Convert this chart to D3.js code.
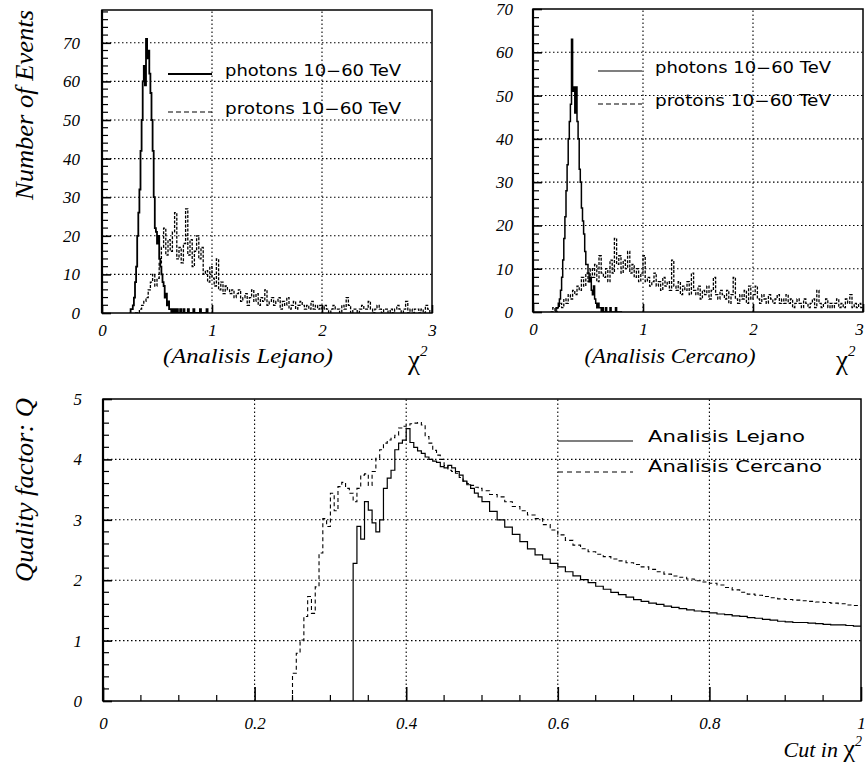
<!DOCTYPE html>
<html><head><meta charset="utf-8">
<script src="https://cdn.jsdelivr.net/npm/d3@7"></script>
<style>body{margin:0;background:#fff} svg{display:block}
.ser{font-family:'Liberation Serif','Times New Roman','DejaVu Serif',serif;font-style:italic}
</style>
</head><body><svg id="c" width="865" height="764"></svg>
<script>
// ---------------- DATA ----------------
// Top histograms: bin start, bin width, counts
const photonBinW = 0.01;
const protonBinW = 0.02;
const photonsLejanoStart = 0.25;
const photonsLejano = [0,1,1,2,4,8,12,20,26,32,42,50,60,64,59,71,66,68,62,57,50,42,30,22,21,18,20,14,12,10,8,7,4,5,2,3,1,1,0,1,0,1,0,1,0,0,1,0,0,1,0,0,0,1,0,0,0,0,1,0,0,0,0,0,1,0,0,0,0,0,1];
const protonsLejanoStart = 0.30;
const protonsLejano = [0,0,1,2,3,4,6,8,10,7,9,13,17,22,15,19,16,21,26,14,17,13,18,27,15,19,12,16,20,14,17,10,11,8,12,
  9,7,14,6,8,5,7,6,5,6,4,5,6,3,4,5,2,4,6,3,5,2,4,3,6,2,3,4,2,3,4,1,3,2,4,1,2,3,1,2,3,2,1,2,1,3,1,2,1,2,
  1,2,1,0,1,2,1,1,0,2,1,4,2,0,1,1,0,1,2,1,1,3,1,0,1,2,1,0,1,1,0,1,0,1,2,1,0,1,3,0,1,0,1,1,0,1,0,2,1,0];
const photonsCercanoStart = 0.20;
const photonsCercano = [0,1,1,2,3,5,8,12,17,22,28,34,40,44,48,63,51,52,46,52,44,40,33,30,24,21,18,14,11,11,9,7,8,5,4,6,3,2,1,2,1,1,0,1,0,0,1,0,0,0,1,0,0,0,0,1,0,0,0,0,0];
const protonsCercanoStart = 0.16;
const protonsCercano = [0,1,0,1,2,1,3,2,4,3,5,4,6,5,8,6,9,7,10,8,11,7,13,9,8,10,7,12,9,17,11,13,9,12,10,14,9,11,8,10,7,9,
  13,7,8,6,7,9,6,7,5,8,6,7,5,12,6,5,7,4,6,5,7,4,9,5,4,6,3,5,4,6,3,5,8,4,3,5,4,3,5,2,4,8,3,2,4,3,5,2,6,3,
  4,6,3,2,4,3,2,4,3,2,3,4,2,3,2,4,2,3,1,2,3,2,1,3,2,1,2,3,1,5,2,1,2,3,1,2,1,2,3,1,2,1,3,2,4,1,2,1,2,1];
const topXTicks = [0,1,2,3];
const topYTicks = [0,10,20,30,40,50,60,70];
const legendTop = ["photons 10\u221260 TeV","protons 10\u221260 TeV"];

// Bottom: quality factor vs cut
const qCut = [0.250,0.255,0.260,0.265,0.270,0.275,0.280,0.285,0.290,0.295,0.300,0.305,0.310,0.315,0.320,0.325,
  0.330,0.335,0.340,0.345,0.350,0.355,0.360,0.365,0.370,0.375,0.380,0.385,0.390,0.395,0.400,0.405,0.410,0.415,
  0.420,0.425,0.430,0.435,0.440,0.445,0.450,0.455,0.460,0.465,0.470,0.475,0.480,0.485,0.490,0.495,
  0.50,0.51,0.52,0.53,0.54,0.55,0.56,0.57,0.58,0.59,0.60,0.61,0.62,0.63,0.64,0.65,0.66,0.67,0.68,0.69,
  0.70,0.71,0.72,0.73,0.74,0.75,0.76,0.77,0.78,0.79,0.80,0.81,0.82,0.83,0.84,0.85,0.86,0.87,0.88,0.89,
  0.90,0.91,0.92,0.93,0.94,0.95,0.96,0.97,0.98,0.99];
const qLejano = [null,null,null,null,null,null,null,null,null,null,null,null,null,null,null,null,
  2.28,2.89,2.68,3.30,3.16,2.95,2.80,3.00,3.52,3.69,3.82,4.16,4.27,4.32,4.51,4.28,4.20,4.14,
  4.10,4.04,4.00,3.97,3.95,3.88,3.86,3.90,3.86,3.80,3.74,3.64,3.58,3.52,3.44,3.38,
  3.30,3.14,3.00,2.88,2.76,2.64,2.52,2.42,2.35,2.28,2.22,2.14,2.07,2.01,1.96,1.90,1.85,1.80,1.76,1.72,
  1.68,1.65,1.62,1.60,1.57,1.55,1.53,1.51,1.49,1.48,1.46,1.44,1.43,1.41,1.40,1.38,1.37,1.35,1.34,1.32,
  1.31,1.30,1.30,1.29,1.28,1.27,1.26,1.26,1.25,1.24];
const qCercano = [0.46,0.79,1.01,1.40,1.73,1.45,1.89,2.45,3.02,2.89,3.44,3.15,3.55,3.62,3.52,3.44,
  3.30,3.52,3.74,3.76,3.57,3.80,4.02,4.16,4.27,4.32,4.36,4.40,4.52,4.55,4.57,4.59,4.60,4.61,
  4.57,4.38,4.27,4.15,4.07,4.00,3.90,3.82,3.80,3.77,3.70,3.64,3.60,3.57,3.54,3.52,
  3.48,3.42,3.38,3.30,3.22,3.15,3.08,3.02,2.92,2.83,2.75,2.66,2.58,2.52,2.47,2.43,2.39,2.35,2.32,2.29,
  2.26,2.22,2.18,2.14,2.10,2.07,2.05,2.02,1.99,1.97,1.95,1.92,1.88,1.84,1.80,1.77,1.75,1.73,1.71,1.69,
  1.68,1.67,1.66,1.65,1.64,1.63,1.62,1.61,1.59,1.58];
const qXTicks = [0,0.2,0.4,0.6,0.8,1];
const qXTickLabels = ["0","0.2","0.4","0.6","0.8","1"];
const qYTicks = [0,1,2,3,4,5];
const legendBottom = ["Analisis Lejano","Analisis Cercano"];

// ---------------- DRAWING ----------------
const svg = d3.select("#c");
const sans = "'DejaVu Sans','Noto Sans',sans-serif";

function histPoints(start, w, vals){
  const pts = [[start,0]];
  vals.forEach((v,i)=>pts.push([start+i*w, v]));
  pts.push([start+vals.length*w, 0]);
  return pts;
}

function frameAndAxes(g, x, y, o){
  const [x0,x1] = x.range(), [y0,y1] = y.range();
  const W = x1-x0, H = y0-y1;
  g.append("g").selectAll("line").data(o.gridY).join("line")
    .attr("x1",x0).attr("x2",x1).attr("y1",d=>y(d)).attr("y2",d=>y(d))
    .attr("stroke","#000").attr("stroke-width",1.1).attr("stroke-dasharray","1.5,2.5");
  g.append("g").selectAll("line").data(o.gridX).join("line")
    .attr("y1",y0).attr("y2",y1).attr("x1",d=>x(d)).attr("x2",d=>x(d))
    .attr("stroke","#000").attr("stroke-width",1.1).attr("stroke-dasharray","1.5,2.5");
  g.append("g").selectAll("line").data(o.minorY).join("line")
    .attr("x1",x0).attr("x2",x0+6).attr("y1",d=>y(d)).attr("y2",d=>y(d))
    .attr("stroke","#000").attr("stroke-width",1.2);
  g.append("g").selectAll("line").data(o.minorX).join("line")
    .attr("y1",y0).attr("y2",y0-6).attr("x1",d=>x(d)).attr("x2",d=>x(d))
    .attr("stroke","#000").attr("stroke-width",1.2);
  const ay = g.append("g").attr("transform",`translate(${x0},0)`)
    .call(d3.axisLeft(y).tickValues(o.yTicks).tickSize(-9).tickPadding(o.yPad).tickFormat(d3.format("d")));
  const ax = g.append("g").attr("transform",`translate(0,${y0})`)
    .call(d3.axisBottom(x).tickValues(o.xTicks).tickSize(-o.xTickLen).tickPadding(o.xPad).tickFormat((d,i)=>o.xLabels? o.xLabels[i] : d3.format("d")(d)));
  [ay,ax].forEach(a=>{
    a.attr("font-family",null).attr("font-size",null);
    a.select(".domain").remove();
    a.selectAll(".tick line").attr("stroke","#000").attr("stroke-width",1.6);
    a.selectAll("text").attr("class","ser").style("font-size","17px").attr("fill","#000");
  });
  ax.selectAll(".tick text").filter((d,i,n)=>i===n.length-1).attr("dx",o.lastDx||0);
  g.append("rect").attr("x",x0).attr("y",y1).attr("width",W).attr("height",H)
    .attr("fill","none").attr("stroke","#000").attr("stroke-width",1.5);
  g.append("line").attr("x1",x0).attr("x2",x0).attr("y1",y1).attr("y2",y0).attr("stroke","#000").attr("stroke-width",2.2);
}

function chiLabel(xc, yb){
  const t = svg.append("text").attr("x",xc).attr("y",yb).attr("class","ser").attr("fill","#000");
  t.append("tspan").style("font-size","27px").style("font-style","normal").text("\u03c7");
  t.append("tspan").style("font-size","15px").attr("dy",-13).text("2");
}

function topPanel(o){
  const x = d3.scaleLinear().domain([0,3]).range([o.left,o.right]);
  const y = d3.scaleLinear().domain([0,o.ymax]).range([o.bottom,o.top]);
  const g = svg.append("g");
  const clipId = "clip"+o.id;
  svg.append("clipPath").attr("id",clipId).append("rect")
    .attr("x",o.left).attr("y",o.top).attr("width",o.right-o.left).attr("height",o.bottom-o.top);
  const minorY = d3.range(0,o.ymax+0.01,2).filter(v=>v%10!==0);
  frameAndAxes(g,x,y,{gridY:[10,20,30,40,50,60,70].filter(v=>v<o.ymax-1),gridX:[1,2],minorY,minorX:[],
    yTicks:topYTicks,xTicks:topXTicks,yPad:o.yPad,xPad:11,xTickLen:8,lastDx:o.lastDx});
  const line = d3.line().x(d=>x(d[0])).y(d=>y(d[1])).curve(d3.curveStepAfter);
  const data = g.append("g").attr("clip-path",`url(#${clipId})`);
  data.append("path").attr("d",line(histPoints(o.protonStart,protonBinW,o.protons)))
    .attr("fill","none").attr("stroke","#000").attr("stroke-width",1.3).attr("stroke-dasharray","3,1.5");
  data.append("path").attr("d",line(histPoints(o.photonStart,photonBinW,o.photons)))
    .attr("fill","none").attr("stroke","#000").attr("stroke-width",o.photonW);
  const lg = g.append("g");
  lg.append("line").attr("x1",o.legX).attr("x2",o.legX+44).attr("y1",o.legY).attr("y2",o.legY)
    .attr("stroke","#000").attr("stroke-width",o.legW);
  lg.append("line").attr("x1",o.legX).attr("x2",o.legX+44).attr("y1",o.legY+o.legDy).attr("y2",o.legY+o.legDy)
    .attr("stroke","#000").attr("stroke-width",1.1).attr("stroke-dasharray","5,3");
  legendTop.forEach((t,i)=>{
    lg.append("text").attr("x",o.legX+57).attr("y",o.legY+2+i*o.legDy).attr("font-family",sans)
      .attr("font-size",15).attr("textLength",176).attr("lengthAdjust","spacingAndGlyphs").attr("fill","#000").text(t);
  });
  svg.append("text").attr("x",o.subX).attr("y",363).attr("text-anchor","middle").attr("class","ser")
    .style("font-size","21px").attr("textLength",o.subLen).attr("lengthAdjust","spacingAndGlyphs").attr("fill","#000").text(o.sub);
  chiLabel(o.chiX, 369);
}

topPanel({id:"L",left:102,right:432,top:10,bottom:313,ymax:78.5,yPad:22,
  photons:photonsLejano,photonStart:photonsLejanoStart,protons:protonsLejano,protonStart:protonsLejanoStart,
  photonW:1.8,legX:168,legY:74,legDy:38,legW:2.2,sub:"(Analisis Lejano)",subX:248,subLen:170,chiX:408,lastDx:0});
topPanel({id:"C",left:533,right:863,top:9,bottom:312,ymax:70,yPad:20,
  photons:photonsCercano,photonStart:photonsCercanoStart,protons:protonsCercano,protonStart:protonsCercanoStart,
  photonW:1.5,legX:598,legY:71,legDy:33,legW:1.1,sub:"(Analisis Cercano)",subX:670,subLen:171,chiX:836,lastDx:-4});

svg.append("text").attr("transform","translate(33,105) rotate(-90)").attr("text-anchor","middle")
  .attr("class","ser").style("font-size","25px").attr("textLength",190).attr("lengthAdjust","spacingAndGlyphs")
  .attr("fill","#000").text("Number of Events");

// ---------------- Bottom panel ----------------
(function(){
  const x = d3.scaleLinear().domain([0,1]).range([103,861]);
  const y = d3.scaleLinear().domain([0,5]).range([701,399]);
  const g = svg.append("g");
  svg.append("clipPath").attr("id","clipQ").append("rect").attr("x",103).attr("y",399).attr("width",758).attr("height",302);
  frameAndAxes(g,x,y,{gridY:[1,2,3,4],gridX:[0.2,0.4,0.6,0.8],
    minorY:d3.range(0,5.001,0.2).filter(v=>Math.abs(v-Math.round(v))>1e-6),
    minorX:d3.range(0.05,1,0.05).filter(v=>Math.abs(v*5-Math.round(v*5))>1e-6),
    yTicks:qYTicks,xTicks:qXTicks,xLabels:qXTickLabels,yPad:21,xPad:16,xTickLen:14,lastDx:0});
  const line = d3.line().x(d=>x(d[0])).y(d=>y(d[1])).curve(d3.curveStepAfter);
  function series(vals){
    const pts = [];
    let first = true;
    vals.forEach((v,i)=>{ if(v===null) return; if(first){pts.push([qCut[i],0]); first=false;} pts.push([qCut[i],v]); });
    pts.push([1.0, pts[pts.length-1][1]]);
    return pts;
  }
  const dg = g.append("g").attr("clip-path","url(#clipQ)");
  dg.append("path").attr("d",line(series(qCercano))).attr("fill","none").attr("stroke","#000")
    .attr("stroke-width",1.1).attr("stroke-dasharray","4,3");
  dg.append("path").attr("d",line(series(qLejano))).attr("fill","none").attr("stroke","#000").attr("stroke-width",1.2);
  g.append("line").attr("x1",558).attr("x2",633).attr("y1",441).attr("y2",441).attr("stroke","#000").attr("stroke-width",1.1);
  g.append("line").attr("x1",558).attr("x2",633).attr("y1",472).attr("y2",472).attr("stroke","#000").attr("stroke-width",1.1).attr("stroke-dasharray","5,4");
  legendBottom.forEach((t,i)=>{
    g.append("text").attr("x",648).attr("y",442+i*30).attr("font-family",sans).attr("font-size",16)
      .attr("textLength",i===0?157:174).attr("lengthAdjust","spacingAndGlyphs").attr("fill","#000").text(t);
  });
  svg.append("text").attr("transform","translate(33,490) rotate(-90)").attr("text-anchor","middle")
    .attr("class","ser").style("font-size","25px").attr("textLength",184).attr("lengthAdjust","spacingAndGlyphs")
    .attr("fill","#000").text("Quality factor: Q");
  const t = svg.append("text").attr("x",862).attr("y",757).attr("text-anchor","end").attr("class","ser").attr("fill","#000");
  t.append("tspan").style("font-size","22px").text("Cut in ");
  t.append("tspan").style("font-size","26px").style("font-style","normal").text("\u03c7");
  t.append("tspan").style("font-size","14px").attr("dy",-11).text("2");
})();
</script>
</body></html>
